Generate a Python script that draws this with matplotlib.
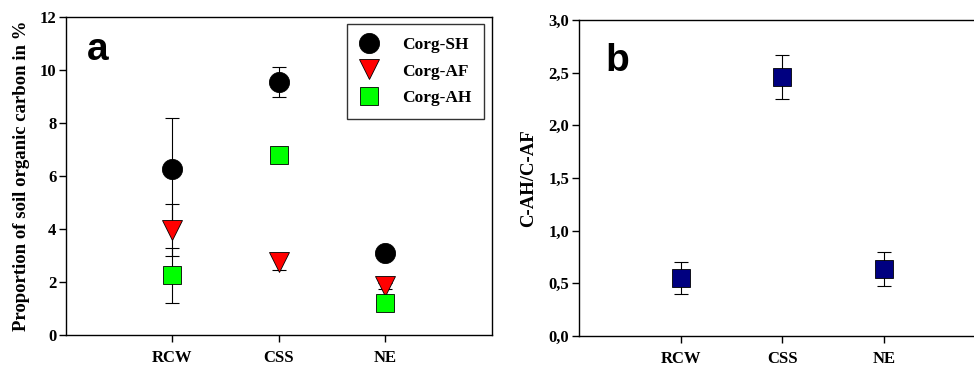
import matplotlib
matplotlib.use("Agg")
import matplotlib.pyplot as plt
import numpy as np

# data
sites = ["RCW", "CSS", "NE"]

corg_sh = [6.25, 9.55, 3.08]
corg_sh_err = [1.95, 0.56, 0.15]
corg_af = [3.97, 2.75, 1.85]
corg_af_err = [0.98, 0.3, 0.1]
corg_ah = [2.25, 6.78, 1.2]
corg_ah_err = [1.05, 0.3, 0.1]

ratio = [0.55, 2.46, 0.635]
ratio_err = [0.155, 0.21, 0.158]

plt.rcParams["font.family"] = ["Liberation Serif", "DejaVu Serif"]
plt.rcParams["font.weight"] = "bold"
plt.rcParams["axes.labelweight"] = "bold"

fig = plt.figure(figsize=(9.74, 3.69), dpi=100)
ax_a = fig.add_axes([0.0678, 0.092, 0.437, 0.862])
ax_b = fig.add_axes([0.5945, 0.0894, 0.4174, 0.8564])

x = np.arange(1, len(sites) + 1)


def style_axes(ax):
    ax.set_xlim(0, 4)
    ax.set_xticks(x)
    ax.set_xticklabels(sites, fontsize=12, fontweight="bold")
    ax.tick_params(axis="x", direction="out", length=5, width=1, pad=6)
    ax.tick_params(axis="y", direction="out", length=5, width=1, pad=2,
                   labelsize=12)
    for lab in ax.get_yticklabels():
        lab.set_fontweight("bold")
    for sp in ax.spines.values():
        sp.set_linewidth(1.0)


series = [
    ("Corg-SH", corg_sh, corg_sh_err, "o", "black", 14.5),
    ("Corg-AF", corg_af, corg_af_err, "v", "#ff0000", 15),
    ("Corg-AH", corg_ah, corg_ah_err, "s", "#00ff00", 12.5),
]
for name, vals, errs, mk, col, ms in series:
    ax_a.errorbar(x, vals, yerr=errs, fmt="none", ecolor="black",
                  elinewidth=0.8, capsize=5, capthick=0.8, zorder=2)
    ax_a.plot(x, vals, linestyle="none", marker=mk, markersize=ms,
              markerfacecolor=col, markeredgecolor="black",
              markeredgewidth=0.6, label=name, zorder=3)

ax_a.set_ylim(0, 12)
ax_a.set_yticks(np.arange(0, 13, 2))
style_axes(ax_a)
ax_a.set_ylabel("Proportion of soil organic carbon in %", fontsize=13.5,
                labelpad=7)
ax_a.text(0.05, 0.895, "a", transform=ax_a.transAxes, fontsize=28,
          fontweight="bold", family="Liberation Sans", va="center")
leg = ax_a.legend(loc="upper right", bbox_to_anchor=(0.995, 0.995),
                  fontsize=12.5, frameon=True, fancybox=False,
                  edgecolor="black", borderpad=0.75, labelspacing=0.6,
                  handlelength=1.0, handletextpad=1.4, borderaxespad=0.3)
leg.get_frame().set_linewidth(1.0)
for t in leg.get_texts():
    t.set_fontweight("bold")

ax_b.errorbar(x, ratio, yerr=ratio_err, fmt="none", ecolor="black",
              elinewidth=0.8, capsize=5, capthick=0.8, zorder=2)
ax_b.plot(x, ratio, linestyle="none", marker="s", markersize=12.5,
          markerfacecolor="#000080", markeredgecolor="black",
          markeredgewidth=0.6, zorder=3)
ax_b.set_ylim(0, 3.0)
ax_b.set_yticks(np.arange(0, 3.01, 0.5))
ax_b.set_yticklabels([f"{v:.1f}".replace(".", ",") for v in np.arange(0, 3.01, 0.5)])
style_axes(ax_b)
ax_b.set_ylabel("C-AH/C-AF", fontsize=13.5, labelpad=8)
ax_b.text(0.065, 0.87, "b", transform=ax_b.transAxes, fontsize=28,
          fontweight="bold", family="Liberation Sans", va="center")

fig.savefig("out.png", dpi=100)
